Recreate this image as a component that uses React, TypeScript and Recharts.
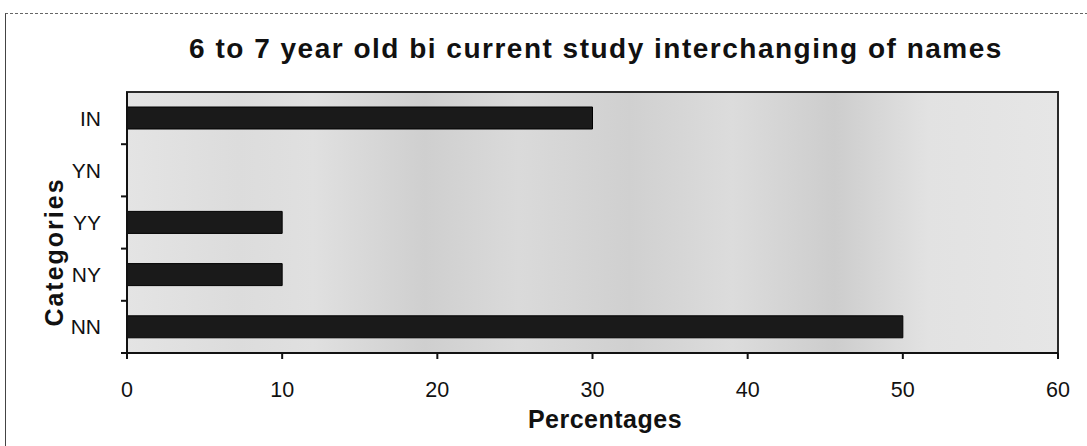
import React from 'react';
import { BarChart, Bar, XAxis, YAxis, CartesianGrid, ReferenceArea } from 'recharts';

const categories = ['IN', 'YN', 'YY', 'NY', 'NN'];
const percentages = [30, 0, 10, 10, 50];
const xTicks = [0, 10, 20, 30, 40, 50, 60];

const data = categories.map((c, i) => ({ category: c, value: percentages[i] }));

const FONT = 'Arial, "Liberation Sans", Helvetica, sans-serif';
const Y_TICK_MARGIN = 20;
const Y_TICK_SIZE = 6;

const CategoryTick = (props: any) => {
  const { x, y, payload } = props;
  const half = payload && typeof payload.offset === 'number' ? payload.offset : 0;
  const axisX = x + Y_TICK_MARGIN + Y_TICK_SIZE;
  return (
    <g>
      <text x={x} y={y} dy="0.36em" textAnchor="end" fill="#111" fontSize={21} fontFamily={FONT}>
        {payload.value}
      </text>
      <line x1={axisX - Y_TICK_SIZE} x2={axisX} y1={y + half} y2={y + half} stroke="#111" strokeWidth={2} />
    </g>
  );
};

export default function App() {
  return (
    <div style={{ position: 'absolute', left: 0, top: 0, width: 1087, height: 446, background: '#fff', fontFamily: FONT }}>
      <div style={{ position: 'absolute', left: 5, top: 13, width: 1082, height: 433, borderLeft: '1px solid #444', borderTop: '1px dashed #666' }} />
      <BarChart
        width={1087}
        height={446}
        layout="vertical"
        data={data}
        margin={{ top: 92, right: 29, bottom: 0, left: 0 }}
        style={{ position: 'absolute', left: 0, top: 0 }}
      >
        <defs>
          <linearGradient id="plotBg" x1="0" y1="0" x2="1" y2="0">
            <stop offset="0" stopColor="#e4e4e4" />
            <stop offset="0.12" stopColor="#dcdcdc" />
            <stop offset="0.2" stopColor="#e0e0e0" />
            <stop offset="0.32" stopColor="#cfcfcf" />
            <stop offset="0.42" stopColor="#dadada" />
            <stop offset="0.54" stopColor="#d0d0d0" />
            <stop offset="0.65" stopColor="#dcdcdc" />
            <stop offset="0.76" stopColor="#cdcdcd" />
            <stop offset="0.86" stopColor="#e2e2e2" />
            <stop offset="1" stopColor="#e6e6e6" />
          </linearGradient>
        </defs>
        <CartesianGrid horizontal={false} vertical={false} fill="url(#plotBg)" fillOpacity={1} />
        <ReferenceArea x1={0} x2={60} fill="none" stroke="#2a2a2a" strokeWidth={2} ifOverflow="visible" />
        <XAxis
          type="number"
          domain={[0, 60]}
          ticks={xTicks}
          interval={0}
          height={93}
          tickSize={6}
          tickMargin={23}
          axisLine={{ stroke: '#111', strokeWidth: 2 }}
          tickLine={{ stroke: '#111', strokeWidth: 2 }}
          tick={{ fill: '#111', fontSize: 21.5, fontFamily: FONT }}
        />
        <YAxis
          type="category"
          dataKey="category"
          width={127}
          tickSize={Y_TICK_SIZE}
          tickMargin={Y_TICK_MARGIN}
          interval={0}
          axisLine={{ stroke: '#111', strokeWidth: 2 }}
          tickLine={false}
          tick={CategoryTick}
        />
        <Bar dataKey="value" barSize={22} fill="#1a1a1a" stroke="#000" strokeWidth={1} isAnimationActive={false} />
      </BarChart>
      <svg width={1087} height={446} style={{ position: 'absolute', left: 0, top: 0, pointerEvents: 'none' }}>
        <text x={596} y={58} textAnchor="middle" fontSize={28} fontWeight="bold" fill="#111" fontFamily={FONT} letterSpacing={1.5}>
          6 to 7 year old bi current study interchanging of names
        </text>
        <text x={605} y={428} textAnchor="middle" fontSize={25} fontWeight="bold" fill="#111" fontFamily={FONT} letterSpacing={0.5}>
          Percentages
        </text>
        <text x={0} y={0} transform="translate(63,252) rotate(-90)" textAnchor="middle" fontSize={25} fontWeight="bold" fill="#111" fontFamily={FONT} letterSpacing={2}>
          Categories
        </text>
      </svg>
    </div>
  );
}
